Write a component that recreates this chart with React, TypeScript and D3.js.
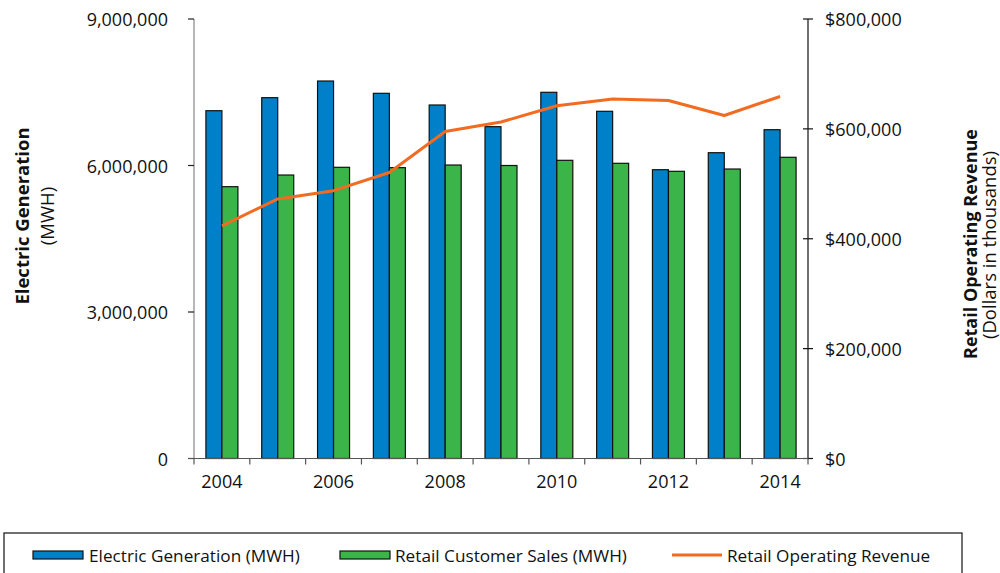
import React from "react";
import * as d3 from "d3";

const years = ["2004","2005","2006","2007","2008","2009","2010","2011","2012","2013","2014"];
const generation = [7122000, 7389000, 7730000, 7478000, 7239000, 6795000, 7499000, 7110000, 5914000, 6262000, 6733000];
const retailSales = [5566000, 5805000, 5963000, 5956000, 6010000, 6000000, 6106000, 6045000, 5881000, 5928000, 6168000];
const revenue = [423500, 472500, 487500, 520600, 595300, 612400, 642100, 654300, 651700, 624400, 659000];
const leftTicks = [0, 3000000, 6000000, 9000000];
const rightTicks = [0, 200000, 400000, 600000, 800000];
const xLabelYears = ["2004","2006","2008","2010","2012","2014"];

const FONT = "'Open Sans', 'Liberation Sans', sans-serif";
const BLUE = "#0080C8";
const GREEN = "#3BB44A";
const ORANGE = "#F26B21";

export default function App() {
  const left = 194, right = 808, top = 19, bottom = 458.5;
  const x = d3.scaleBand<string>().domain(years).range([left, right]).paddingInner(0).paddingOuter(0);
  const yL = d3.scaleLinear().domain([0, 9000000]).range([bottom, top]);
  const yR = d3.scaleLinear().domain([0, 800000]).range([bottom, top]);
  const bw = x.bandwidth();
  const barW = 16;
  const fmtL = d3.format(",");
  const fmtR = (v: number) => "$" + d3.format(",")(v);
  const line = d3.line<number>()
    .x((_, i) => (x(years[i]) as number) + bw / 2)
    .y((d) => yR(d));

  return (
    <svg width={1000} height={573} style={{ position: "absolute", left: 0, top: 0, background: "#fff" }} fontFamily={FONT}>
      {years.map((yr, i) => {
        const cx = (x(yr) as number) + bw / 2;
        return (
          <g key={yr}>
            <rect x={cx - barW} y={yL(generation[i])} width={barW} height={bottom - yL(generation[i])} fill={BLUE} stroke="#111" strokeWidth={1.2} />
            <rect x={cx} y={yL(retailSales[i])} width={barW} height={bottom - yL(retailSales[i])} fill={GREEN} stroke="#111" strokeWidth={1.2} />
          </g>
        );
      })}
      <path d={line(revenue) || ""} fill="none" stroke={ORANGE} strokeWidth={3} strokeLinejoin="round" />

      <line x1={left} x2={left} y1={top} y2={bottom} stroke="#868686" strokeWidth={1.2} />
      {leftTicks.map((t) => (
        <g key={t}>
          <line x1={left - 6} x2={left} y1={yL(t)} y2={yL(t)} stroke="#222" strokeWidth={1.2} />
          <text x={168} y={yL(t)} textAnchor="end" dominantBaseline="central" fontSize={18} fill="#111">{fmtL(t)}</text>
        </g>
      ))}
      <line x1={right} x2={right} y1={top} y2={bottom} stroke="#111" strokeWidth={1.2} />
      {rightTicks.map((t) => (
        <g key={t}>
          <line x1={right - 5} x2={right + 5} y1={yR(t)} y2={yR(t)} stroke="#111" strokeWidth={1.2} />
          <text x={825} y={yR(t)} textAnchor="start" dominantBaseline="central" fontSize={18} fill="#111">{fmtR(t)}</text>
        </g>
      ))}
      <line x1={left - 6} x2={right} y1={bottom} y2={bottom} stroke="#555" strokeWidth={1.2} />
      {years.map((yr) => (
        <line key={"t" + yr} x1={x(yr) as number} x2={x(yr) as number} y1={bottom} y2={bottom + 6} stroke="#555" strokeWidth={1.2} />
      ))}
      <line x1={right} x2={right} y1={bottom} y2={bottom + 6} stroke="#555" strokeWidth={1.2} />
      {xLabelYears.map((yr) => (
        <text key={"l" + yr} x={(x(yr) as number) + bw / 2} y={488} textAnchor="middle" fontSize={18} fill="#111">{yr}</text>
      ))}

      <g transform="translate(21,216) rotate(-90)">
        <text textAnchor="middle" dominantBaseline="central" fontSize={18.5} fontWeight="bold" fill="#111">Electric Generation</text>
      </g>
      <g transform="translate(46.5,216) rotate(-90)">
        <text textAnchor="middle" dominantBaseline="central" fontSize={18.5} fill="#111">(MWH)</text>
      </g>
      <g transform="translate(970,244) rotate(-90)">
        <text textAnchor="middle" dominantBaseline="central" fontSize={18} fontWeight="bold" fill="#111">Retail Operating Revenue</text>
      </g>
      <g transform="translate(988,245) rotate(-90)">
        <text textAnchor="middle" dominantBaseline="central" fontSize={18.5} fill="#111">(Dollars in thousands)</text>
      </g>

      <rect x={4} y={533} width={958} height={60} fill="#fff" stroke="#111" strokeWidth={1.2} />
      <rect x={33} y={551} width={50} height={8} fill={BLUE} stroke="#111" strokeWidth={1.2} />
      <text x={89} y={555} dominantBaseline="central" fontSize={17.2} fill="#111">Electric Generation (MWH)</text>
      <rect x={340} y={551} width={50} height={8} fill={GREEN} stroke="#111" strokeWidth={1.2} />
      <text x={395} y={555} dominantBaseline="central" fontSize={17.2} fill="#111">Retail Customer Sales (MWH)</text>
      <line x1={672} x2={722} y1={555} y2={555} stroke={ORANGE} strokeWidth={3} />
      <text x={727} y={555} dominantBaseline="central" fontSize={17.2} fill="#111">Retail Operating Revenue</text>
    </svg>
  );
}
